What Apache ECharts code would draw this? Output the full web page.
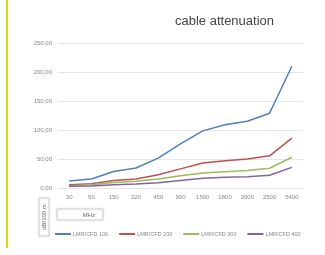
<!DOCTYPE html>
<html>
<head>
<meta charset="utf-8">
<script src="https://cdn.jsdelivr.net/npm/echarts@6/dist/echarts.min.js"></script>
<style>
    html, body { margin: 0; padding: 0; background: #fff; }
    #chart { width: 325px; height: 255px; }
</style>
</head>
<body>
<div id="chart"></div>
<script>
    var categories = ['30', '50', '150', '220', '450', '900', '1500', '1800', '2000', '2500', '5400'];
    var cfd100 = [12, 15.5, 28.5, 34.5, 51.5, 76, 98.5, 109, 115, 129, 210];
    var cfd200 = [5.5, 7.5, 13, 15.5, 23, 33, 43, 47, 50, 55.5, 86];
    var cfd300 = [4, 5.5, 9.5, 11.5, 15.5, 21, 26, 28, 30, 34, 53];
    var cfd400 = [3, 3.5, 5.5, 7, 9, 13, 17, 18.5, 19.5, 22, 35.5];
    var seriesNames = ['LMR/CFD 100', 'LMR/CFD 200', 'LMR/CFD 300', 'LMR/CFD 400'];
    var colors = ['#4f81bd', '#c0504d', '#9bbb59', '#8064a2'];

    var chart = echarts.init(document.getElementById('chart'));

    function line(name, data, color) {
        return {
            name: name,
            type: 'line',
            data: data,
            symbol: 'none',
            lineStyle: {width: 1.5, color: color},
            itemStyle: {color: color}
        };
    }

    chart.setOption({
        backgroundColor: '#fff',
        animation: false,
        title: {
            text: 'cable attenuation',
            left: 170,
            top: 10,
            textStyle: {fontFamily: 'Liberation Sans', fontSize: 13, fontWeight: 'normal', color: '#444'}
        },
        grid: {left: 58, right: 22, top: 43, bottom: 67},
        legend: {
            data: seriesNames,
            left: 50,
            top: 226,
            itemWidth: 16,
            itemHeight: 2,
            itemGap: 11,
            icon: 'rect',
            textStyle: {fontFamily: 'Liberation Sans', fontSize: 5.5, color: '#888', width: 37, padding: [0, 0, 0, -3]}
        },
        xAxis: {
            type: 'category',
            data: categories,
            boundaryGap: true,
            axisLine: {show: false},
            axisTick: {show: false},
            axisLabel: {fontFamily: 'Liberation Sans', fontSize: 6, color: '#888', margin: 6}
        },
        yAxis: {
            type: 'value',
            min: 0,
            max: 250,
            interval: 50,
            axisLine: {show: false},
            axisTick: {show: false},
            splitLine: {lineStyle: {color: '#e6e6e6', width: 1}},
            axisLabel: {
                fontFamily: 'Liberation Sans', fontSize: 6, color: '#888', margin: 6,
                formatter: function (v) { return v.toFixed(2).replace('.', ','); }
            }
        },
        graphic: [
            {
                type: 'rect',
                shape: {x: 6, y: 0, width: 2, height: 248},
                style: {fill: '#d2de00'}
            },
            {
                type: 'rect',
                shape: {x: 39, y: 198, width: 10, height: 38},
                style: {fill: '#fff', stroke: '#d8d8d8', lineWidth: 1, shadowBlur: 2, shadowColor: 'rgba(0,0,0,0.15)'}
            },
            {
                type: 'text',
                x: 44,
                y: 217,
                rotation: Math.PI / 2,
                style: {text: 'dB/100 m', fontFamily: 'Liberation Sans', fontSize: 6, fill: '#666', align: 'center', verticalAlign: 'middle'}
            },
            {
                type: 'rect',
                shape: {x: 57, y: 209, width: 46, height: 11},
                style: {fill: '#fff', stroke: '#d8d8d8', lineWidth: 1, shadowBlur: 2, shadowColor: 'rgba(0,0,0,0.15)'}
            },
            {
                type: 'text',
                x: 89,
                y: 215,
                style: {text: 'MHz', fontFamily: 'Liberation Sans', fontSize: 6, fill: '#666', align: 'center', verticalAlign: 'middle'}
            }
        ],
        series: [
            line(seriesNames[0], cfd100, colors[0]),
            line(seriesNames[1], cfd200, colors[1]),
            line(seriesNames[2], cfd300, colors[2]),
            line(seriesNames[3], cfd400, colors[3])
        ]
    });
</script>
</body>
</html>
